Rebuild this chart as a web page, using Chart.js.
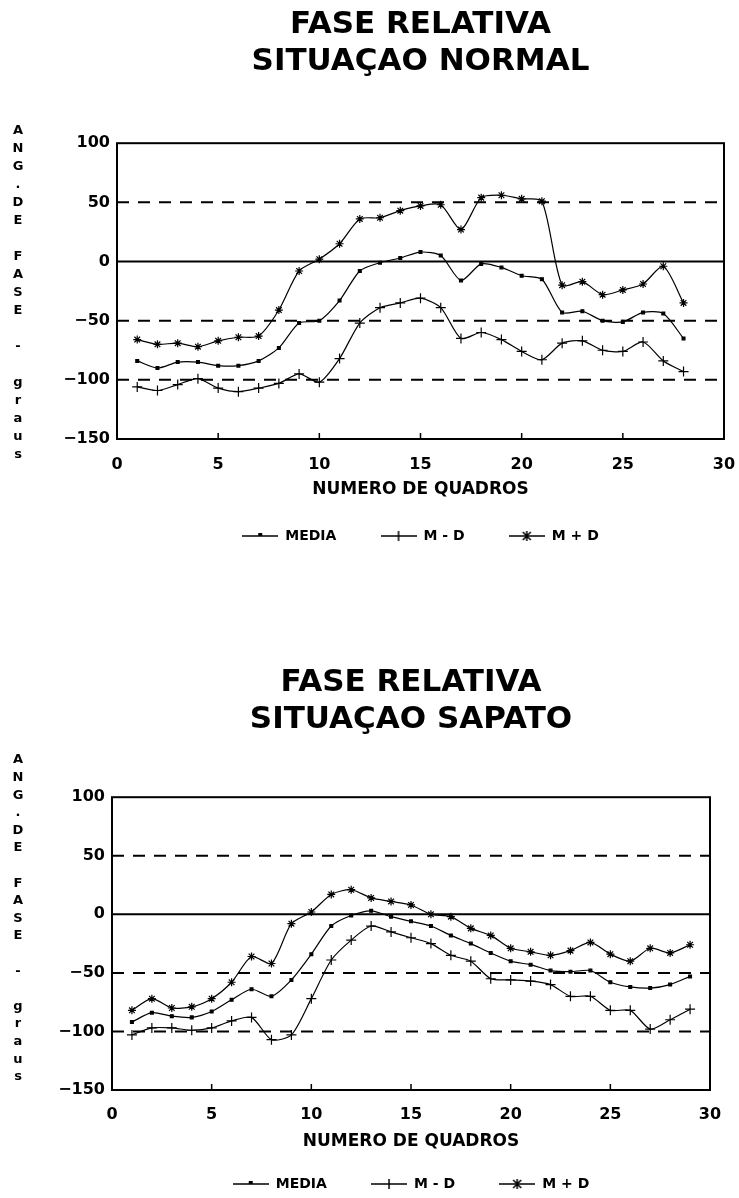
<!DOCTYPE html>
<html>
<head>
<meta charset="utf-8">
<script src="https://cdn.jsdelivr.net/npm/chart.js@4/dist/chart.umd.min.js"></script>
<style>
  html, body { margin: 0; padding: 0; background: #fff; overflow: hidden; }
  .box { position: absolute; left: 0; width: 739px; }
  #c1 { top: 0; height: 566px; }
  #c2 { top: 615px; height: 600px; }
</style>
</head>
<body>
<div class="box" id="c1"><canvas id="normal"></canvas></div>
<div class="box" id="c2"><canvas id="sapato"></canvas></div>
<script>
const framesNormal = [1, 2, 3, 4, 5, 6, 7, 8, 9, 10, 11, 12, 13, 14, 15, 16, 17, 18, 19, 20, 21, 22, 23, 24, 25, 26, 27, 28];
const normalMedia = [-84, -90, -85, -85, -88, -88, -84, -73, -52, -50, -33, -8, -1, 3, 8, 5, -16, -2, -5, -12, -15, -43, -42, -50, -51, -43, -44, -65];
const normalMenos = [-106, -109, -104, -99, -107, -110, -107, -103, -95, -102, -82, -52, -39, -35, -31, -39, -65, -60, -66, -76, -83, -69, -67, -75, -76, -68, -84, -93];
const normalMais = [-66, -70, -69, -72, -67, -64, -63, -41, -8, 2, 15, 36, 37, 43, 47, 48, 27, 54, 56, 53, 51, -20, -17, -28, -24, -19, -4, -35];

const framesSapato = [1, 2, 3, 4, 5, 6, 7, 8, 9, 10, 11, 12, 13, 14, 15, 16, 17, 18, 19, 20, 21, 22, 23, 24, 25, 26, 27, 28, 29];
const sapatoMedia = [-92, -84, -87, -88, -83, -73, -64, -70, -56, -34, -10, -1, 3, -2, -6, -10, -18, -25, -33, -40, -43, -48, -49, -48, -58, -62, -63, -60, -53];
const sapatoMenos = [-103, -97, -97, -99, -97, -91, -88, -107, -103, -72, -39, -22, -10, -15, -20, -25, -35, -40, -55, -56, -57, -60, -70, -70, -82, -82, -98, -90, -81];
const sapatoMais = [-82, -72, -80, -79, -72, -58, -36, -42, -8, 2, 17, 21, 14, 11, 8, 0, -2, -12, -18, -29, -32, -35, -31, -24, -34, -40, -29, -33, -26];

const seriesNames = ['MEDIA', 'M - D', 'M + D'];
const refLines = [50, 0, -50, -100];
const xMarks = [5, 10, 15, 20, 25];
const yTitle = 'ANG.DE FASE - graus';

Chart.defaults.font.family = '"DejaVu Sans", sans-serif';
Chart.defaults.font.weight = 'bold';
Chart.defaults.color = '#000';

// legend icons: a short line with the marker in the middle
function legendIcon(kind) {
  const c = document.createElement('canvas');
  c.width = 36; c.height = 12;
  const g = c.getContext('2d');
  g.strokeStyle = '#000'; g.fillStyle = '#000'; g.lineWidth = 1.5;
  g.beginPath(); g.moveTo(0, 6); g.lineTo(36, 6); g.stroke();
  g.beginPath();
  if (kind === 0) {
    g.fillRect(16, 3, 4, 3);
  } else if (kind === 1) {
    g.moveTo(18, 1); g.lineTo(18, 11);
  } else {
    g.moveTo(18, 1); g.lineTo(18, 11);
    g.moveTo(14, 2); g.lineTo(22, 10);
    g.moveTo(22, 2); g.lineTo(14, 10);
  }
  g.stroke();
  return c;
}
const icons = [legendIcon(0), legendIcon(1), legendIcon(2)];
const legendText = ['MEDIA       ', 'M - D       ', 'M + D'];

const framePlugin = {
  id: 'frame',
  beforeDatasetsDraw(chart, args, opts) {
    const { ctx, chartArea: a, scales: { x, y } } = chart;
    ctx.save();
    ctx.strokeStyle = '#000';
    ctx.lineWidth = 2;
    refLines.forEach((v) => {
      const py = y.getPixelForValue(v);
      ctx.setLineDash(v === 0 ? [] : [12, 9]);
      ctx.beginPath();
      ctx.moveTo(a.left, py);
      ctx.lineTo(a.right, py);
      ctx.stroke();
    });
    ctx.setLineDash([]);
    ctx.strokeRect(a.left, a.top, a.right - a.left, a.bottom - a.top);
    ctx.lineWidth = 1.5;
    xMarks.forEach((v) => {
      const px = x.getPixelForValue(v);
      ctx.beginPath();
      ctx.moveTo(px, a.bottom);
      ctx.lineTo(px, a.bottom - 6);
      ctx.stroke();
    });
    // stacked y title, one letter per line
    ctx.fillStyle = '#000';
    ctx.font = 'bold 13px "DejaVu Sans"';
    ctx.textAlign = 'center';
    ctx.textBaseline = 'middle';
    [...yTitle].forEach((ch, i) => ctx.fillText(ch, 18, opts.labelTop + i * opts.labelStep));
    ctx.restore();
  }
};

function makeChart(id, titleLines, frames, media, menos, mais, geo) {
  const pts = (arr) => frames.map((f, i) => ({ x: f, y: arr[i] }));
  const common = {
    borderColor: '#000',
    borderWidth: 1.2,
    pointBorderColor: '#000',
    pointBackgroundColor: '#000',
    pointBorderWidth: 1.2,
    tension: 0.25,
    fill: false
  };
  return new Chart(document.getElementById(id).getContext('2d'), {
    type: 'line',
    data: {
      datasets: [
        { ...common, label: seriesNames[0], data: pts(media), pointStyle: 'rect', pointRadius: 2 },
        { ...common, label: seriesNames[1], data: pts(menos), pointStyle: 'cross', pointRadius: 5 },
        { ...common, label: seriesNames[2], data: pts(mais), pointStyle: 'star', pointRadius: 4 }
      ]
    },
    options: {
      responsive: true,
      maintainAspectRatio: false,
      animation: false,
      layout: { padding: { left: 0, right: geo.right, top: 0, bottom: geo.bottom } },
      scales: {
        x: {
          type: 'linear',
          min: 0,
          max: 30,
          grid: { display: false, drawTicks: true, tickLength: geo.tickGap },
          border: { display: false },
          ticks: { stepSize: 5, padding: 0, font: { size: 16 } },
          title: {
            display: true,
            text: 'NUMERO DE QUADROS',
            font: { size: 17 },
            padding: { top: geo.xtTop, bottom: geo.xtBottom }
          },
          afterFit: (scale) => { scale.paddingRight = 0; }
        },
        y: {
          min: -150,
          max: 100,
          grid: { display: false, drawTicks: false },
          border: { display: false },
          ticks: {
            stepSize: 50,
            padding: 7,
            font: { size: 16 },
            callback: (v) => (v < 0 ? '\u2212' + Math.abs(v) : String(v))
          },
          afterFit: (scale) => { scale.width = geo.left; }
        }
      },
      plugins: {
        title: {
          display: true,
          text: titleLines,
          fullSize: false,
          font: { size: 31 },
          padding: { top: geo.titleTop, bottom: geo.titleBottom }
        },
        legend: {
          position: 'bottom',
          fullSize: false,
          labels: {
            usePointStyle: true,
            pointStyleWidth: 36,
            padding: 10,
            font: { size: 14 },
            generateLabels: (chart) => chart.data.datasets.map((ds, i) => ({
              text: legendText[i],
              pointStyle: icons[i],
              fillStyle: 'transparent',
              strokeStyle: 'transparent',
              lineWidth: 0,
              hidden: false,
              datasetIndex: i,
              fontColor: '#000'
            }))
          }
        },
        tooltip: { enabled: false },
        frame: { labelTop: geo.labelTop, labelStep: geo.labelStep }
      }
    },
    plugins: [framePlugin]
  });
}

makeChart('normal', ['FASE RELATIVA', 'SITUAÇAO NORMAL'], framesNormal, normalMedia, normalMenos, normalMais, {
  left: 117, right: 15, bottom: 13, tickGap: 16.4, xtTop: 5.2, xtBottom: 18.8,
  titleTop: 6.4, titleBottom: 62.4, labelTop: 131, labelStep: 18
});

makeChart('sapato', ['FASE RELATIVA', 'SITUAÇAO SAPATO'], framesSapato, sapatoMedia, sapatoMenos, sapatoMais, {
  left: 112, right: 29, bottom: 14, tickGap: 15.4, xtTop: 7.2, xtBottom: 14.8,
  titleTop: 49.4, titleBottom: 58.4, labelTop: 145, labelStep: 17.6
});
</script>
</body>
</html>
